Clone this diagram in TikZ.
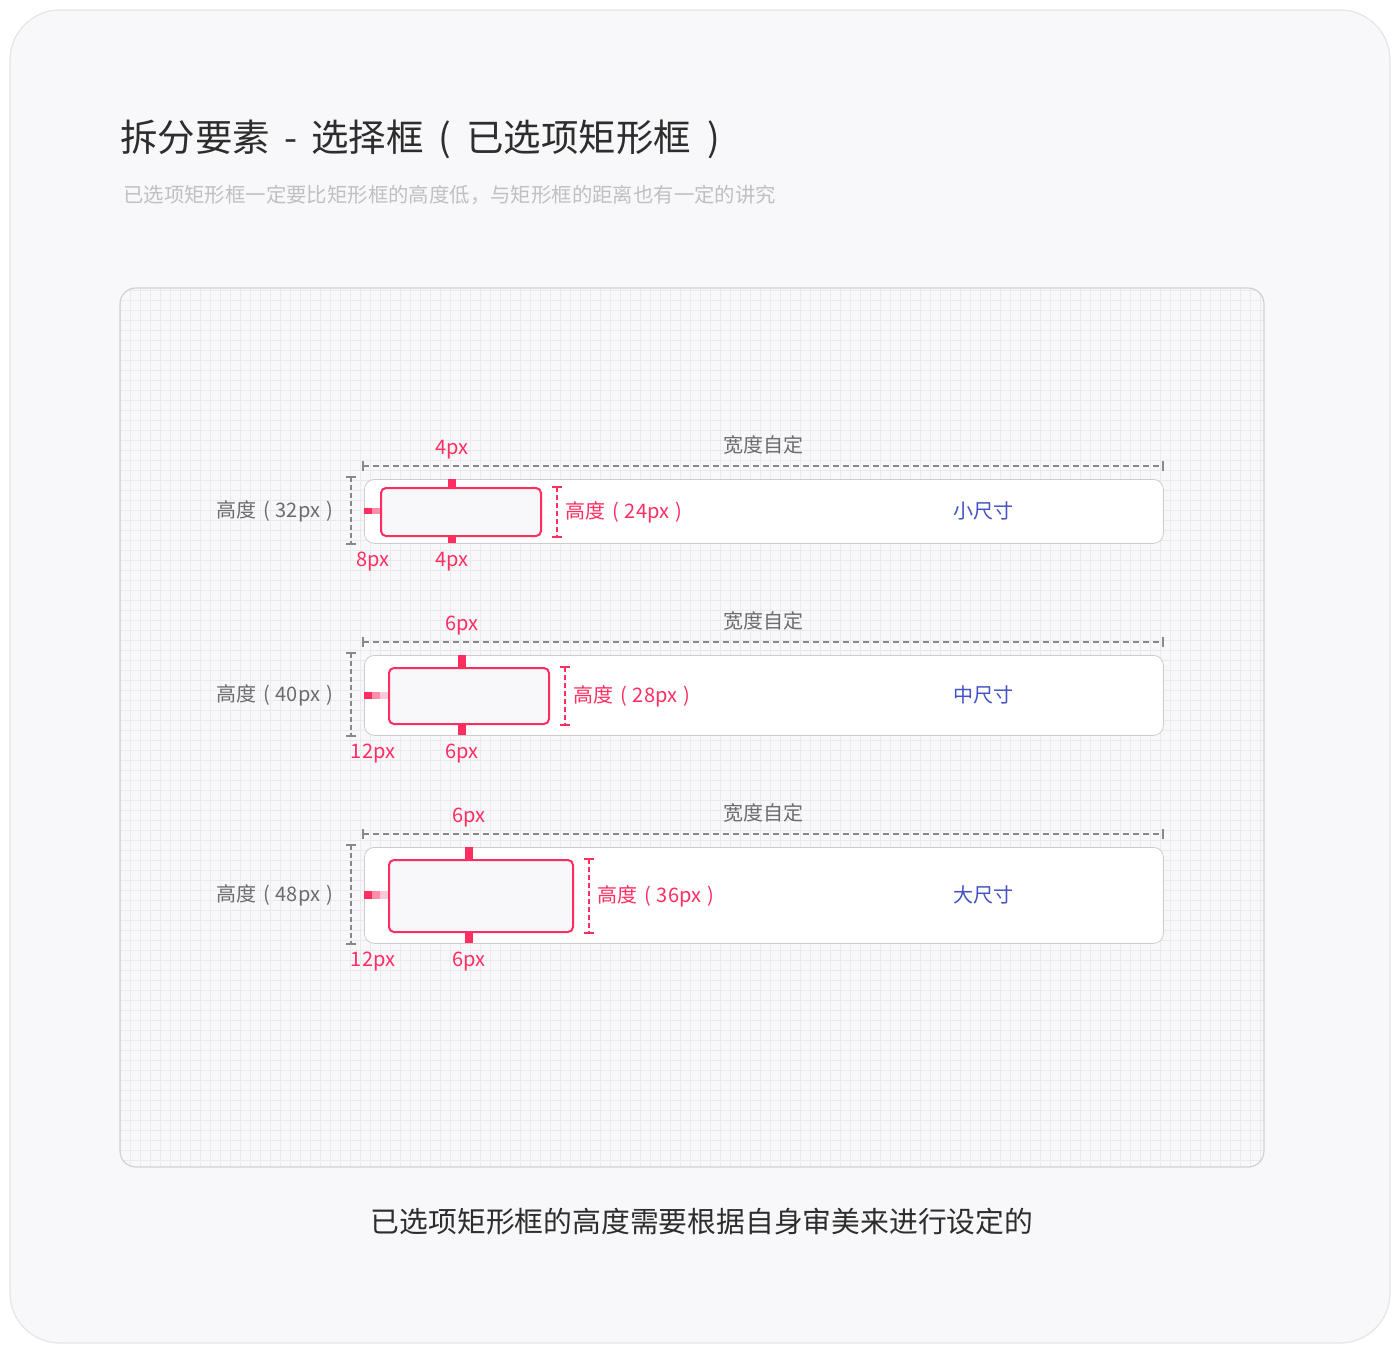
\documentclass[tikz,border=0pt]{standalone}
\usepackage{fontspec}
\setmainfont{Noto Sans CJK SC}
\definecolor{hot}{RGB}{255,46,96}
\definecolor{hotmid}{RGB}{255,140,168}
\definecolor{hotlight}{RGB}{255,200,214}
\definecolor{ink}{RGB}{45,45,45}
\definecolor{mute}{RGB}{108,108,112}
\definecolor{faint}{RGB}{192,192,196}
\definecolor{navy}{RGB}{66,82,196}
\definecolor{card}{RGB}{248,248,250}
\definecolor{gridline}{RGB}{233,233,238}
\definecolor{rule}{RGB}{136,136,140}
\newcommand{\hlabel}[1]{高度\hspace{7pt}(\hspace{6pt}#1\hspace{6pt})}

\begin{document}
\begin{tikzpicture}[x=1pt, y=-1pt,
	lbl/.style={font=\fontsize{20}{24}\selectfont, inner sep=0pt},
	redlbl/.style={lbl, text=hot},
	graylbl/.style={lbl, text=mute},
	dimgray/.style={rule, line width=1.2pt, dash pattern=on 6pt off 4pt},
	dimred/.style={hot, line width=1.2pt, dash pattern=on 5pt off 3pt},
	slot/.style={draw=black!20, fill=white, line width=0.8pt, rounded corners=10pt},
	picked/.style={draw=hot, fill=card, line width=2pt, rounded corners=5pt}]
\useasboundingbox (0,0) rectangle (1400,1350);
\fill[white] (0,0) rectangle (1400,1350);
\draw[black!10, fill=card, line width=1.2pt, rounded corners=50pt] (10,10) rectangle (1390,1343);

\node[anchor=west, inner sep=0pt, text=ink, font=\fontsize{37.5}{42}\selectfont]
	(title) at (120,139) {拆分要素\hspace{14pt}-\hspace{14pt}选择框\hspace{15pt}(\hspace{15pt}已选项矩形框\hspace{16pt})};
\node[anchor=west, inner sep=0pt, text=faint, font=\fontsize{20.4}{24}\selectfont]
	(sub) at (123,195) {已选项矩形框一定要比矩形框的高度低，与矩形框的距离也有一定的讲究};

\begin{scope}
\clip[rounded corners=16pt] (120,288) rectangle (1264,1167);
\fill[card] (120,288) rectangle (1264,1167);
\draw[gridline, line width=1pt] (120,288) grid[step=10pt] (1264,1167);
\end{scope}
\draw[black!18, line width=1.2pt, rounded corners=16pt] (120,288) rectangle (1264,1167);

\foreach \n/\ty/\hh/\gap/\lg/\w/\cx/\mh/\pad/\side/\hout/\hin/\kind in {
	1/479/64/8/16/160/452/6/4px/8px/32px/24px/小尺寸,
	2/655/80/12/24/160/462/7/6px/12px/40px/28px/中尺寸,
	3/847/96/12/24/184/469/8/6px/12px/48px/36px/大尺寸}
{
\pgfmathsetmacro\rh{\hh-2*\gap}
\pgfmathsetmacro\mid{\ty+\hh/2}
\node[slot, anchor=north west, minimum width=799pt, minimum height=\hh pt]
	(slot\n) at (364,\ty) {};
\fill[hotlight] (364,\mid-\mh/2) rectangle (364+\lg,\mid+\mh/2);
\fill[hotmid] (364,\mid-\mh/2) rectangle (380,\mid+\mh/2);
\fill[hot] (364,\mid-\mh/2) rectangle (372,\mid+\mh/2);
\node[picked, anchor=north west, minimum width=\w pt, minimum height=\rh pt]
	(pick\n) at (364+\lg,\ty+\gap) {};
\fill[hot] (\cx-4,\ty) rectangle (\cx+4,\ty+\gap);
\fill[hot] (\cx-4,\ty+\hh-\gap) rectangle (\cx+4,\ty+\hh);

\coordinate (wl\n) at (363,\ty-13);
\coordinate (wr\n) at (1163,\ty-13);
\draw[dimgray] (wl\n) -- (wr\n);
\draw[rule, line width=1.5pt] (wl\n) ++(0,-5) -- ++(0,10);
\draw[rule, line width=1.5pt] (wr\n) ++(0,-5) -- ++(0,10);
\node[graylbl] (wide\n) at (763,\ty-34) {宽度自定};

\coordinate (lt\n) at (351,\ty-2);
\coordinate (lb\n) at (351,\ty+\hh+1);
\draw[dimgray, dash pattern=on 5pt off 3pt] (lt\n) -- (lb\n);
\draw[rule, line width=1.5pt] (lt\n) ++(-5,0) -- ++(10,0);
\draw[rule, line width=1.5pt] (lb\n) ++(-5,0) -- ++(10,0);
\node[graylbl, anchor=east] (hout\n) at (333,\mid) {\hlabel{\hout}};

\coordinate (rt\n) at ([xshift=15pt]pick\n.north east);
\coordinate (rb\n) at ([xshift=15pt]pick\n.south east);
\draw[dimred] (rt\n) -- (rb\n);
\draw[hot, line width=1.5pt] (rt\n) ++(-5,0) -- ++(10,0);
\draw[hot, line width=1.5pt] (rb\n) ++(-5,0) -- ++(10,0);
\node[redlbl, anchor=west] (hin\n) at ([xshift=23pt]pick\n.east) {\hlabel{\hin}};

\node[redlbl] (padt\n) at (\cx,\ty-29) {\pad};
\node[redlbl] (padb\n) at (\cx,\ty+\hh+19) {\pad};
\node[redlbl] (side\n) at (373,\ty+\hh+19) {\side};
\node[lbl, text=navy] (kind\n) at (983,\mid) {\kind};
}

\node[inner sep=0pt, text=ink, font=\fontsize{28.8}{32}\selectfont]
	(note) at (702,1222) {已选项矩形框的高度需要根据自身审美来进行设定的};
\end{tikzpicture}
\end{document}
